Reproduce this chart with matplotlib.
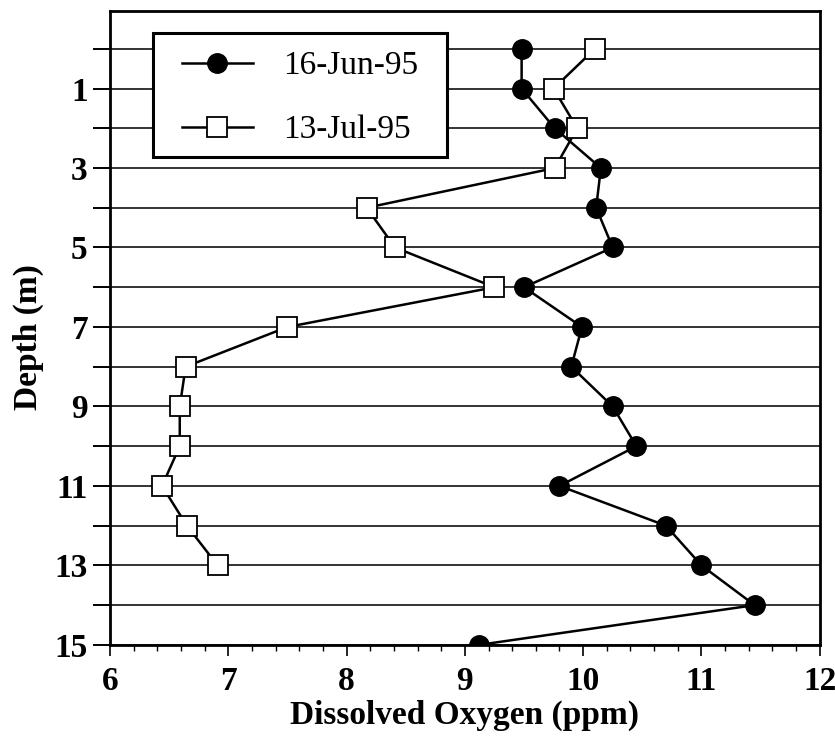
import matplotlib
matplotlib.use("Agg")
import matplotlib.pyplot as plt
from matplotlib.ticker import MultipleLocator
from matplotlib.patches import Rectangle

depth_jun = [0, 1, 2, 3, 4, 5, 6, 7, 8, 9, 10, 11, 12, 13, 14, 15]
do_jun = [9.48, 9.48, 9.76, 10.15, 10.11, 10.25, 9.50, 9.99, 9.90, 10.25, 10.45, 9.80, 10.70, 11.00, 11.45, 9.12]

depth_jul = [0, 1, 2, 3, 4, 5, 6, 7, 8, 9, 10, 11, 12, 13]
do_jul = [10.10, 9.75, 9.95, 9.76, 8.17, 8.41, 9.25, 7.50, 6.64, 6.59, 6.59, 6.44, 6.65, 6.91]

label_jun = "16-Jun-95"
label_jul = "13-Jul-95"
ytick_vals = list(range(0, 16))
ytick_labels = [str(v) if v % 2 == 1 else "" for v in ytick_vals]
xtick_vals = [6, 7, 8, 9, 10, 11, 12]

plt.rcParams['font.family'] = ['Liberation Serif', 'DejaVu Serif']

fig = plt.figure(figsize=(8.35, 7.37), dpi=100)
ax = fig.add_axes([0.1317, 0.125, 0.850, 0.86])

for d in ytick_vals:
    ax.axhline(d, color="#333333", lw=1.4, zorder=1)

ax.plot(do_jun, depth_jun, color="black", lw=1.8, marker="o", ms=14,
        mfc="black", mec="black", label=label_jun, zorder=3)
ax.plot(do_jul, depth_jul, color="black", lw=1.8, marker="s", ms=15,
        mfc="white", mec="black", mew=1.3, label=label_jul, zorder=3)

ax.set_xlim(6, 12)
ax.set_ylim(15, -0.95)
ax.set_xticks(xtick_vals)
ax.xaxis.set_minor_locator(MultipleLocator(0.2))
ax.set_yticks(ytick_vals)
ax.set_yticklabels(ytick_labels)
ax.tick_params(axis="x", which="major", direction="out", length=8, width=1.2,
               labelsize=24, pad=7)
ax.tick_params(axis="x", which="minor", direction="out", length=4.5, width=1.0)
ax.tick_params(axis="y", which="major", direction="out", length=12, width=1.4,
               labelsize=24, pad=4)
for lab in ax.get_xticklabels() + ax.get_yticklabels():
    lab.set_fontweight("bold")

for sp in ax.spines.values():
    sp.set_linewidth(2.0)

ax.set_xlabel("Dissolved Oxygen (ppm)", fontsize=24, fontweight="bold", labelpad=2)
ax.set_ylabel("Depth (m)", fontsize=24, fontweight="bold")
ax.yaxis.set_label_coords(-0.093, 0.486)

# legend frame drawn as a box, entries placed inside
ax.add_patch(Rectangle((0.0606, 0.770), 0.4143, 0.195, transform=ax.transAxes,
                       facecolor="white", edgecolor="black", lw=2.2, zorder=4))
leg = ax.legend(loc="upper left", bbox_to_anchor=(0.101, 0.937), fontsize=24,
                frameon=False, handlelength=2.15, labelspacing=1.0, borderpad=0,
                handletextpad=0.9, borderaxespad=0)
leg.set_zorder(5)

fig.savefig("out.png", dpi=100, facecolor="white")
